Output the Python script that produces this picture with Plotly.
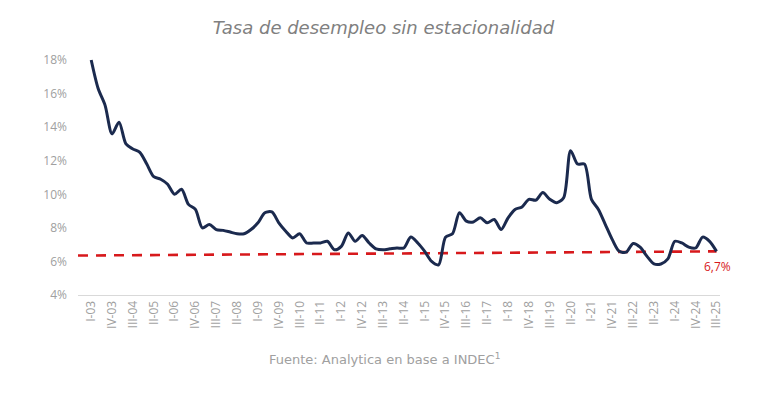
import plotly.graph_objects as go

quarters = []
roman = ["I", "II", "III", "IV"]
for yr in range(3, 26):
    for q in roman:
        quarters.append(f"{q}-{yr:02d}")
quarters = quarters[:91]  # I-03 .. III-25

desempleo = [
    18.0, 16.3, 15.3, 13.6, 14.3, 13.0, 12.7, 12.5, 11.8, 11.05,
    10.9, 10.6, 10.0, 10.3, 9.4, 9.1, 8.0, 8.2, 7.9, 7.85,
    7.75, 7.65, 7.65, 7.9, 8.3, 8.9, 8.95, 8.3, 7.8, 7.4,
    7.65, 7.1, 7.1, 7.1, 7.2, 6.7, 6.9, 7.7, 7.2, 7.55,
    7.1, 6.75, 6.7, 6.75, 6.8, 6.8, 7.45, 7.1, 6.6, 6.0,
    5.8, 7.45, 7.65, 8.9, 8.4, 8.35, 8.6, 8.3, 8.5, 7.9,
    8.6, 9.1, 9.25, 9.7, 9.65, 10.1, 9.7, 9.5, 9.8, 12.6,
    11.8, 11.8, 9.7, 9.1, 8.2, 7.3, 6.6, 6.55, 7.07, 6.85,
    6.3, 5.85, 5.85, 6.15, 7.2, 7.1, 6.85, 6.8, 7.45, 7.2,
    6.6,
]

tendencia_x = [-1.9, 90]
tendencia_y = [6.35, 6.6]
etiqueta_final = "6,7%"

y_ticks = [4, 6, 8, 10, 12, 14, 16, 18]
y_tick_text = [f"{v}%" for v in y_ticks]
x_tick_idx = list(range(0, 91, 3))
x_tick_text = [quarters[i] for i in x_tick_idx]

idx = list(range(len(desempleo)))
FONT = "Open Sans, sans-serif"
WIDE = "DejaVu Sans, sans-serif"

fig = go.Figure()
fig.add_trace(go.Scatter(
    x=tendencia_x, y=tendencia_y, mode="lines",
    line=dict(color="#d7191c", width=2.6, dash="10px,8px"),
    hoverinfo="skip", showlegend=False,
))
fig.add_trace(go.Scatter(
    x=idx, y=desempleo, mode="lines",
    line=dict(color="#1b2a4e", width=3, shape="spline", smoothing=0.8),
    text=quarters, showlegend=False,
))

fig.add_annotation(
    x=90, y=tendencia_y[-1], text=etiqueta_final, showarrow=False,
    xanchor="center", yanchor="top", yshift=-5, xshift=1,
    font=dict(color="#d7191c", size=12, family=FONT),
)
fig.add_annotation(
    xref="paper", yref="paper", x=0.478, y=-0.267,
    text="Fuente: Analytica en base a INDEC<sup>1</sup>", showarrow=False,
    xanchor="center", yanchor="middle",
    font=dict(color="#a0a0a0", size=13, family=WIDE),
)

fig.update_layout(
    width=760, height=395,
    margin=dict(l=70, r=48, t=47, b=108),
    paper_bgcolor="white", plot_bgcolor="white",
    title=dict(
        text="<i>Tasa de desempleo sin estacionalidad</i>",
        x=0.494, xanchor="center", y=1 - 20 / 395, yanchor="middle",
        font=dict(color="#808080", size=18, family=WIDE),
    ),
    xaxis=dict(
        range=[-1.9, 90.5], tickmode="array", tickvals=x_tick_idx,
        ticktext=x_tick_text, tickangle=-90, showgrid=False, zeroline=False,
        showline=True, linecolor="#d9d9d9", linewidth=1, ticks="",
        tickfont=dict(color="#a0a0a0", size=12, family=FONT),
    ),
    yaxis=dict(
        range=[4, 18.3], tickmode="array", tickvals=y_ticks,
        ticktext=y_tick_text, showgrid=False, zeroline=False,
        showline=False, ticks="", ticklabelstandoff=10,
        tickfont=dict(color="#a0a0a0", size=12, family=FONT),
    ),
)

fig.write_html("out.html")
